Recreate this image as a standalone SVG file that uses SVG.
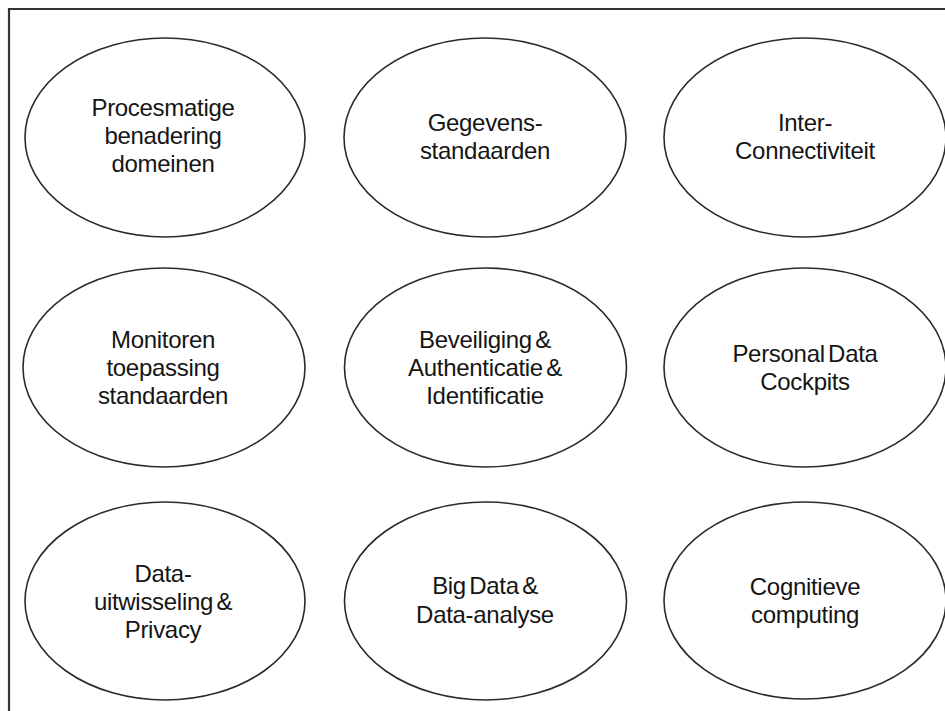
<svg xmlns="http://www.w3.org/2000/svg" width="945" height="711" viewBox="0 0 945 711">
<style>
.frame{fill:none;stroke:#333333;stroke-width:2.2}
.node ellipse{fill:#ffffff;stroke:#2a2a2a;stroke-width:1.6}
.node text{font-family:"Liberation Sans",Arial,sans-serif;font-size:24px;fill:#151515;text-anchor:middle;letter-spacing:-0.3px;word-spacing:-3px}
</style>
<rect x="0" y="0" width="945" height="711" fill="#ffffff"/>
<path class="frame" d="M9,711 V9 H945"/>
<g id="connectors"></g>
<g id="n1" class="node"><ellipse cx="165" cy="137.5" rx="140" ry="99.5"/><text x="163" y="116">Procesmatige</text><text x="163" y="144">benadering</text><text x="163" y="172">domeinen</text></g>
<g id="n2" class="node"><ellipse cx="485" cy="137.5" rx="141" ry="99.5"/><text x="485" y="131">Gegevens-</text><text x="485" y="159">standaarden</text></g>
<g id="n3" class="node"><ellipse cx="805" cy="137.5" rx="141" ry="99.5"/><text x="805" y="131">Inter-</text><text x="805" y="159">Connectiviteit</text></g>
<g id="n4" class="node"><ellipse cx="164" cy="367.5" rx="141" ry="99.5"/><text x="163" y="348">Monitoren</text><text x="163" y="376">toepassing</text><text x="163" y="404">standaarden</text></g>
<g id="n5" class="node"><ellipse cx="485.5" cy="367.5" rx="141" ry="99.5"/><text x="485" y="348">Beveiliging &amp;</text><text x="485" y="376">Authenticatie &amp;</text><text x="485" y="404">Identificatie</text></g>
<g id="n6" class="node"><ellipse cx="805" cy="367.5" rx="141" ry="99.5"/><text x="805" y="362">Personal Data</text><text x="805" y="390">Cockpits</text></g>
<g id="n7" class="node"><ellipse cx="165" cy="601" rx="140" ry="99"/><text x="163" y="581.5">Data-</text><text x="163" y="609.5">uitwisseling &amp;</text><text x="163" y="637.5">Privacy</text></g>
<g id="n8" class="node"><ellipse cx="485.5" cy="601" rx="141" ry="99"/><text x="485" y="594">Big Data &amp;</text><text x="485" y="623">Data-analyse</text></g>
<g id="n9" class="node"><ellipse cx="805" cy="600.5" rx="141" ry="98.5"/><text x="805" y="595">Cognitieve</text><text x="805" y="623">computing</text></g>
</svg>
